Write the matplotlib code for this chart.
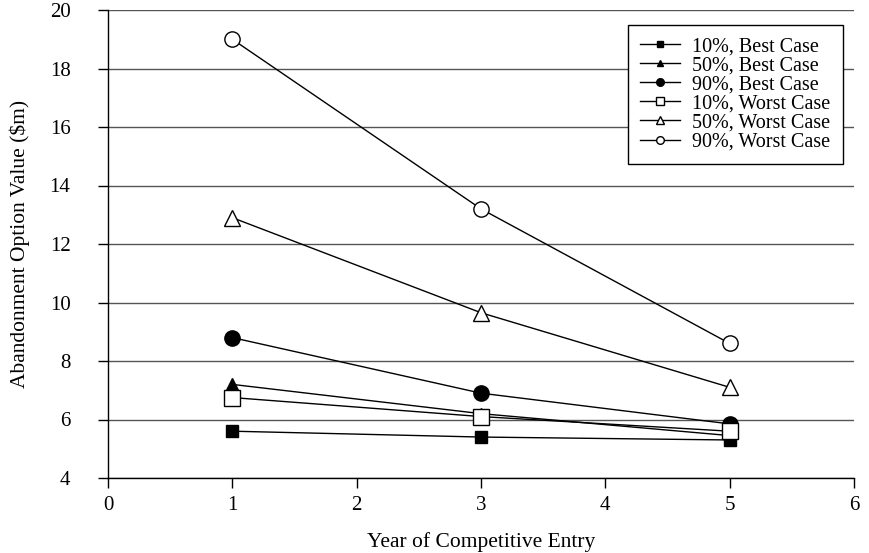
import matplotlib
matplotlib.use("Agg")
import matplotlib.pyplot as plt

years = [1, 3, 5]
labels = ["10%, Best Case", "50%, Best Case", "90%, Best Case",
          "10%, Worst Case", "50%, Worst Case", "90%, Worst Case"]
best_10 = [5.6, 5.4, 5.3]
best_50 = [7.2, 6.2, 5.45]
best_90 = [8.8, 6.9, 5.85]
worst_10 = [6.75, 6.1, 5.6]
worst_50 = [12.9, 9.65, 7.1]
worst_90 = [19.0, 13.2, 8.6]
series = [best_10, best_50, best_90, worst_10, worst_50, worst_90]
markers = ["s", "^", "o", "s", "^", "o"]
fills = ["black", "black", "black", "white", "white", "white"]
sizes = [8.5, 9, 11, 12, 12, 11]

font = "Liberation Serif"
plt.rcParams["font.family"] = [font, "DejaVu Serif"]

fig = plt.figure(figsize=(8.69, 5.53), dpi=100)
ax = fig.add_axes([108/869, 1-478/553, (854-108)/869, (478-10)/553])

for ys, lab, m, fc, ms in zip(series, labels, markers, fills, sizes):
    ax.plot(years, ys, color="black", lw=1.0, marker=m, markersize=ms,
            markerfacecolor=fc, markeredgecolor="black", markeredgewidth=1.0,
            label=lab, zorder=3)

ax.set_xlim(0, 6)
ax.set_ylim(4, 20)
ax.set_xticks(range(0, 7))
ax.set_yticks(range(4, 21, 2))
ax.yaxis.grid(True, color="#555555", lw=1.0)
ax.set_axisbelow(True)
for s in ["top", "right"]:
    ax.spines[s].set_visible(False)
for s in ["left", "bottom"]:
    ax.spines[s].set_linewidth(1.0)
ax.tick_params(axis="y", direction="out", length=7, width=1.0, pad=20, labelsize=15)
ax.tick_params(axis="x", direction="out", length=7, width=1.0, pad=6, labelsize=15)

ax.set_xlabel("Year of Competitive Entry", fontsize=15.5, labelpad=12)
ax.set_ylabel("Abandonment Option Value ($m)", fontsize=15.5, labelpad=14)

leg = ax.legend(loc="upper right", bbox_to_anchor=(0.985, 0.968), fontsize=14.5,
                markerscale=0.5, handlelength=2.0, labelspacing=0.0,
                fancybox=False, framealpha=1, edgecolor="black",
                borderpad=0.6, handletextpad=0.6, borderaxespad=0)
leg.get_frame().set_linewidth(1.0)

fig.savefig("out.png", dpi=100)
